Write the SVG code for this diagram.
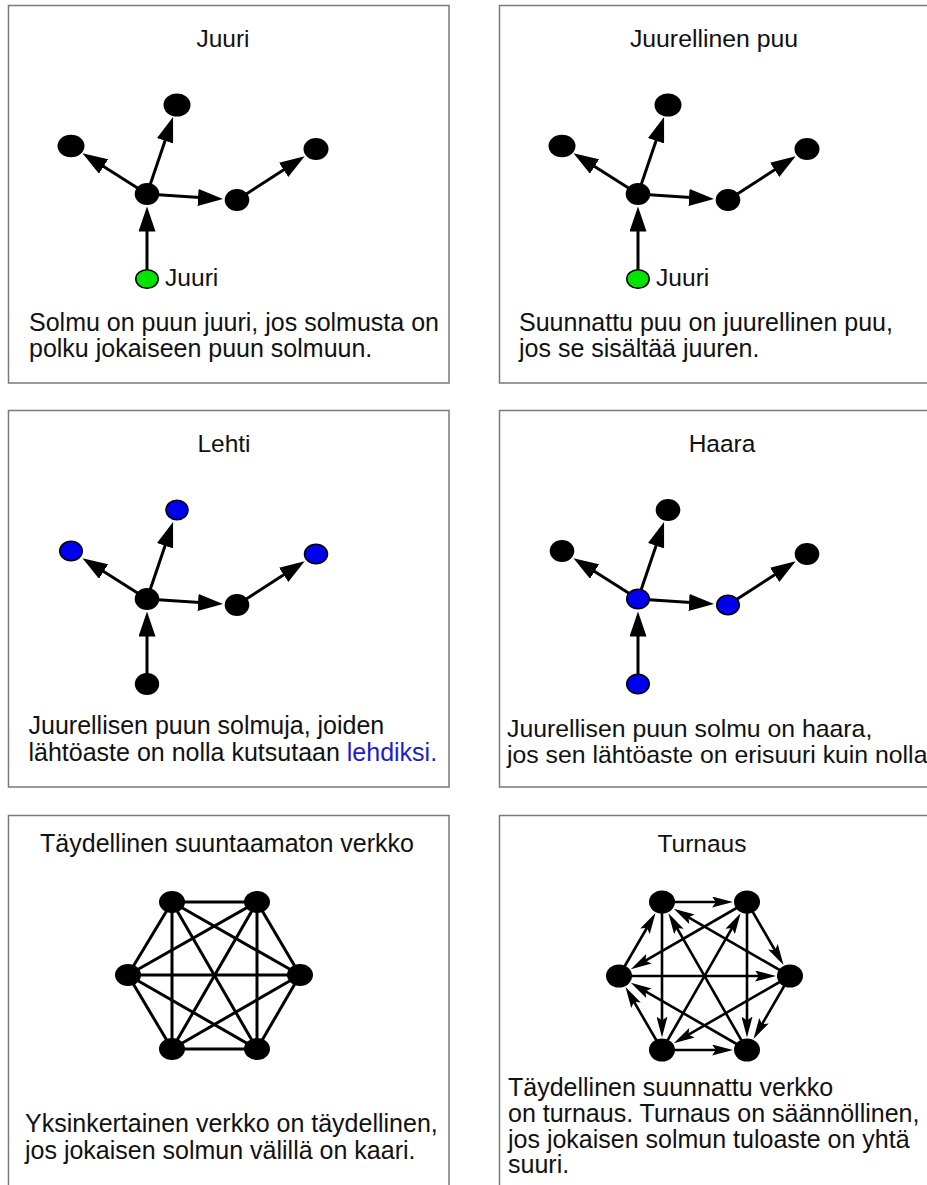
<svg xmlns="http://www.w3.org/2000/svg" width="927" height="1185" viewBox="0 0 927 1185">
  <defs>
    <style>
      .frame { fill: #fff; stroke: #7a7a7a; stroke-width: 1.5; }
      .title, .body, .lbl { font-family: "Liberation Sans", Arial, Helvetica, sans-serif; fill: #111; }
      .title { font-size: 24.5px; text-anchor: middle; }
      .body { font-size: 25px; }
      .lbl { font-size: 24.6px; }
      .hl { fill: #1c1ccc; }
      .edge { stroke: #000; stroke-width: 3; fill: none; }
      .tedge { stroke: #000; stroke-width: 2.6; fill: none; }
      .dark { fill: #000; }
      .root { fill: #00e400; stroke: #000; stroke-width: 1.5; }
      .mark { fill: #0000ee; stroke: #000; stroke-width: 1.5; }
    </style>
    <marker id="headTree" markerUnits="userSpaceOnUse" markerWidth="25" markerHeight="17" refX="13" refY="8.5" orient="auto">
      <path d="M0,0 L25,8.5 L0,17 z" fill="#000"/>
    </marker>
    <marker id="headTour" markerUnits="userSpaceOnUse" markerWidth="21" markerHeight="11" refX="13" refY="5.5" orient="auto">
      <path d="M0,0 L21,5.5 L0,11 L4,5.5 z" fill="#000"/>
    </marker>
  </defs>

  <rect width="927" height="1185" fill="#fff"/>

  <!-- panel frames -->
  <g id="frames">
    <rect class="frame" x="8.5" y="5.5" width="440.5" height="377.5"/>
    <rect class="frame" x="499.5" y="5.5" width="440" height="377.5"/>
    <rect class="frame" x="8.5" y="410.5" width="440.5" height="376.5"/>
    <rect class="frame" x="499.5" y="410.5" width="440" height="376.5"/>
    <rect class="frame" x="8.5" y="815.5" width="440.5" height="400"/>
    <rect class="frame" x="499.5" y="815.5" width="440" height="400"/>
  </g>

  <!-- texts -->
  <g id="texts">
    <text class="title" x="223" y="47">Juuri</text>
    <text class="lbl" x="165" y="286">Juuri</text>
    <text class="body" x="29" y="331">Solmu on puun juuri, jos solmusta on</text>
    <text class="body" x="29" y="357">polku jokaiseen puun solmuun.</text>

    <text class="title" x="714" y="47" style="font-size:24.8px">Juurellinen puu</text>
    <text class="lbl" x="656" y="286">Juuri</text>
    <text class="body" x="519" y="331">Suunnattu puu on juurellinen puu,</text>
    <text class="body" x="519" y="357">jos se sisältää juuren.</text>

    <text class="title" x="224" y="452">Lehti</text>
    <text class="body" x="28.5" y="734">Juurellisen puun solmuja, joiden</text>
    <text class="body" x="28.5" y="761">lähtöaste on nolla kutsutaan <tspan class="hl">lehdiksi.</tspan></text>

    <text class="title" x="722" y="452">Haara</text>
    <text class="body" x="507" y="737" style="font-size:24.8px">Juurellisen puun solmu on haara,</text>
    <text class="body" x="507" y="763" style="font-size:24.8px">jos sen lähtöaste on erisuuri kuin nolla</text>

    <text class="title" x="227" y="852" style="font-size:25px">Täydellinen suuntaamaton verkko</text>
    <text class="body" x="25" y="1132">Yksinkertainen verkko on täydellinen,</text>
    <text class="body" x="25" y="1159">jos jokaisen solmun välillä on kaari.</text>

    <text class="title" x="702" y="852">Turnaus</text>
    <text class="body" x="508" y="1096">Täydellinen suunnattu verkko</text>
    <text class="body" x="508" y="1122">on turnaus. Turnaus on säännöllinen,</text>
    <text class="body" x="508" y="1148">jos jokaisen solmun tuloaste on yhtä</text>
    <text class="body" x="508" y="1173">suuri.</text>
  </g>

  <!-- connectors -->
  <g id="connectors">
    <g id="tree-edges-1">
      <line class="edge" x1="147" y1="194" x2="169.2" y2="128.4" marker-end="url(#headTree)"/>
      <line class="edge" x1="147" y1="194" x2="92.6" y2="159.6" marker-end="url(#headTree)"/>
      <line class="edge" x1="147" y1="194" x2="211" y2="198.3" marker-end="url(#headTree)"/>
      <line class="edge" x1="237" y1="200" x2="294.6" y2="162.8" marker-end="url(#headTree)"/>
      <line class="edge" x1="147" y1="279" x2="147" y2="218.5" marker-end="url(#headTree)"/>
    </g>
    <g id="tree-edges-2" transform="translate(491,0)">
      <line class="edge" x1="147" y1="194" x2="169.2" y2="128.4" marker-end="url(#headTree)"/>
      <line class="edge" x1="147" y1="194" x2="92.6" y2="159.6" marker-end="url(#headTree)"/>
      <line class="edge" x1="147" y1="194" x2="211" y2="198.3" marker-end="url(#headTree)"/>
      <line class="edge" x1="237" y1="200" x2="294.6" y2="162.8" marker-end="url(#headTree)"/>
      <line class="edge" x1="147" y1="279" x2="147" y2="218.5" marker-end="url(#headTree)"/>
    </g>
    <g id="tree-edges-3" transform="translate(0,405)">
      <line class="edge" x1="147" y1="194" x2="169.2" y2="128.4" marker-end="url(#headTree)"/>
      <line class="edge" x1="147" y1="194" x2="92.6" y2="159.6" marker-end="url(#headTree)"/>
      <line class="edge" x1="147" y1="194" x2="211" y2="198.3" marker-end="url(#headTree)"/>
      <line class="edge" x1="237" y1="200" x2="294.6" y2="162.8" marker-end="url(#headTree)"/>
      <line class="edge" x1="147" y1="279" x2="147" y2="218.5" marker-end="url(#headTree)"/>
    </g>
    <g id="tree-edges-4" transform="translate(491,405)">
      <line class="edge" x1="147" y1="194" x2="169.2" y2="128.4" marker-end="url(#headTree)"/>
      <line class="edge" x1="147" y1="194" x2="92.6" y2="159.6" marker-end="url(#headTree)"/>
      <line class="edge" x1="147" y1="194" x2="211" y2="198.3" marker-end="url(#headTree)"/>
      <line class="edge" x1="237" y1="200" x2="294.6" y2="162.8" marker-end="url(#headTree)"/>
      <line class="edge" x1="147" y1="279" x2="147" y2="218.5" marker-end="url(#headTree)"/>
    </g>

    <!-- complete graph K6 -->
    <g id="k6-edges">
      <line class="edge" x1="172" y1="902" x2="257" y2="902"/>
      <line class="edge" x1="172" y1="902" x2="128" y2="975"/>
      <line class="edge" x1="172" y1="902" x2="300" y2="975"/>
      <line class="edge" x1="172" y1="902" x2="172" y2="1049"/>
      <line class="edge" x1="172" y1="902" x2="257" y2="1049"/>
      <line class="edge" x1="257" y1="902" x2="128" y2="975"/>
      <line class="edge" x1="257" y1="902" x2="300" y2="975"/>
      <line class="edge" x1="257" y1="902" x2="172" y2="1049"/>
      <line class="edge" x1="257" y1="902" x2="257" y2="1049"/>
      <line class="edge" x1="128" y1="975" x2="300" y2="975"/>
      <line class="edge" x1="128" y1="975" x2="172" y2="1049"/>
      <line class="edge" x1="128" y1="975" x2="257" y2="1049"/>
      <line class="edge" x1="300" y1="975" x2="172" y2="1049"/>
      <line class="edge" x1="300" y1="975" x2="257" y2="1049"/>
      <line class="edge" x1="172" y1="1049" x2="257" y2="1049"/>
    </g>

    <!-- tournament -->
    <g id="tournament-edges">
      <line class="tedge" x1="662" y1="902" x2="725" y2="902" marker-end="url(#headTour)"/>
      <line class="tedge" x1="619" y1="976" x2="651.5" y2="920" marker-end="url(#headTour)"/>
      <line class="tedge" x1="790" y1="976" x2="680.7" y2="912.8" marker-end="url(#headTour)"/>
      <line class="tedge" x1="662" y1="902" x2="662" y2="1029.5" marker-end="url(#headTour)"/>
      <line class="tedge" x1="747" y1="1050" x2="672.4" y2="920.1" marker-end="url(#headTour)"/>
      <line class="tedge" x1="747" y1="902" x2="637.7" y2="965.2" marker-end="url(#headTour)"/>
      <line class="tedge" x1="747" y1="902" x2="779.5" y2="958" marker-end="url(#headTour)"/>
      <line class="tedge" x1="662" y1="1050" x2="736.6" y2="920.1" marker-end="url(#headTour)"/>
      <line class="tedge" x1="747" y1="902" x2="747" y2="1029.5" marker-end="url(#headTour)"/>
      <line class="tedge" x1="619" y1="976" x2="768" y2="976" marker-end="url(#headTour)"/>
      <line class="tedge" x1="662" y1="1050" x2="629.5" y2="994" marker-end="url(#headTour)"/>
      <line class="tedge" x1="747" y1="1050" x2="637.7" y2="986.8" marker-end="url(#headTour)"/>
      <line class="tedge" x1="790" y1="976" x2="680.7" y2="1039.2" marker-end="url(#headTour)"/>
      <line class="tedge" x1="790" y1="976" x2="757.5" y2="1032" marker-end="url(#headTour)"/>
      <line class="tedge" x1="662" y1="1050" x2="725" y2="1050" marker-end="url(#headTour)"/>
    </g>
  </g>

  <!-- nodes: Juuri -->
  <g id="p1-top"><ellipse class="dark" cx="177" cy="105" rx="13.5" ry="11.6"/></g>
  <g id="p1-left"><ellipse class="dark" cx="71" cy="146" rx="13.5" ry="11.3"/></g>
  <g id="p1-center"><ellipse class="dark" cx="147" cy="194" rx="12.3" ry="11"/></g>
  <g id="p1-mid"><ellipse class="dark" cx="237" cy="200" rx="12.3" ry="11"/></g>
  <g id="p1-right"><ellipse class="dark" cx="316" cy="149" rx="12.5" ry="11"/></g>
  <g id="p1-root"><ellipse class="root" cx="147" cy="279" rx="11.2" ry="9.3"/></g>

  <!-- nodes: Juurellinen puu -->
  <g id="p2-top"><ellipse class="dark" cx="668" cy="105" rx="13.5" ry="11.6"/></g>
  <g id="p2-left"><ellipse class="dark" cx="562" cy="146" rx="13.5" ry="11.3"/></g>
  <g id="p2-center"><ellipse class="dark" cx="638" cy="194" rx="12.3" ry="11"/></g>
  <g id="p2-mid"><ellipse class="dark" cx="728" cy="200" rx="12.3" ry="11"/></g>
  <g id="p2-right"><ellipse class="dark" cx="807" cy="149" rx="12.5" ry="11"/></g>
  <g id="p2-root"><ellipse class="root" cx="638" cy="279" rx="11.2" ry="9.3"/></g>

  <!-- nodes: Lehti -->
  <g id="p3-top"><ellipse class="mark" cx="177" cy="510" rx="11" ry="9.7"/></g>
  <g id="p3-left"><ellipse class="mark" cx="71" cy="551" rx="11.3" ry="9.8"/></g>
  <g id="p3-center"><ellipse class="dark" cx="147" cy="599" rx="12.3" ry="11"/></g>
  <g id="p3-mid"><ellipse class="dark" cx="237" cy="605" rx="12.3" ry="11"/></g>
  <g id="p3-right"><ellipse class="mark" cx="316" cy="554" rx="11.5" ry="9.8"/></g>
  <g id="p3-root"><ellipse class="dark" cx="147" cy="684" rx="12.2" ry="11"/></g>

  <!-- nodes: Haara -->
  <g id="p4-top"><ellipse class="dark" cx="668" cy="510" rx="12.3" ry="11"/></g>
  <g id="p4-left"><ellipse class="dark" cx="562" cy="551" rx="12.3" ry="11"/></g>
  <g id="p4-center"><ellipse class="mark" cx="638" cy="599" rx="11.3" ry="9.8"/></g>
  <g id="p4-mid"><ellipse class="mark" cx="728" cy="605" rx="11.3" ry="9.8"/></g>
  <g id="p4-right"><ellipse class="dark" cx="807" cy="554" rx="12.3" ry="11"/></g>
  <g id="p4-root"><ellipse class="mark" cx="638" cy="684" rx="11.3" ry="9.8"/></g>

  <!-- nodes: complete graph -->
  <g id="k6-a"><ellipse class="dark" cx="172" cy="902" rx="13" ry="11"/></g>
  <g id="k6-b"><ellipse class="dark" cx="257" cy="902" rx="13" ry="11"/></g>
  <g id="k6-c"><ellipse class="dark" cx="128" cy="975" rx="13" ry="11"/></g>
  <g id="k6-d"><ellipse class="dark" cx="300" cy="975" rx="13" ry="11"/></g>
  <g id="k6-e"><ellipse class="dark" cx="172" cy="1049" rx="13" ry="11"/></g>
  <g id="k6-f"><ellipse class="dark" cx="257" cy="1049" rx="13" ry="11"/></g>

  <!-- nodes: tournament -->
  <g id="t-a"><ellipse class="dark" cx="662" cy="902" rx="13" ry="11.5"/></g>
  <g id="t-b"><ellipse class="dark" cx="747" cy="902" rx="13" ry="11.5"/></g>
  <g id="t-c"><ellipse class="dark" cx="619" cy="976" rx="13" ry="11.5"/></g>
  <g id="t-d"><ellipse class="dark" cx="790" cy="976" rx="13" ry="11.5"/></g>
  <g id="t-e"><ellipse class="dark" cx="662" cy="1050" rx="13" ry="11.5"/></g>
  <g id="t-f"><ellipse class="dark" cx="747" cy="1050" rx="13" ry="11.5"/></g>
</svg>
